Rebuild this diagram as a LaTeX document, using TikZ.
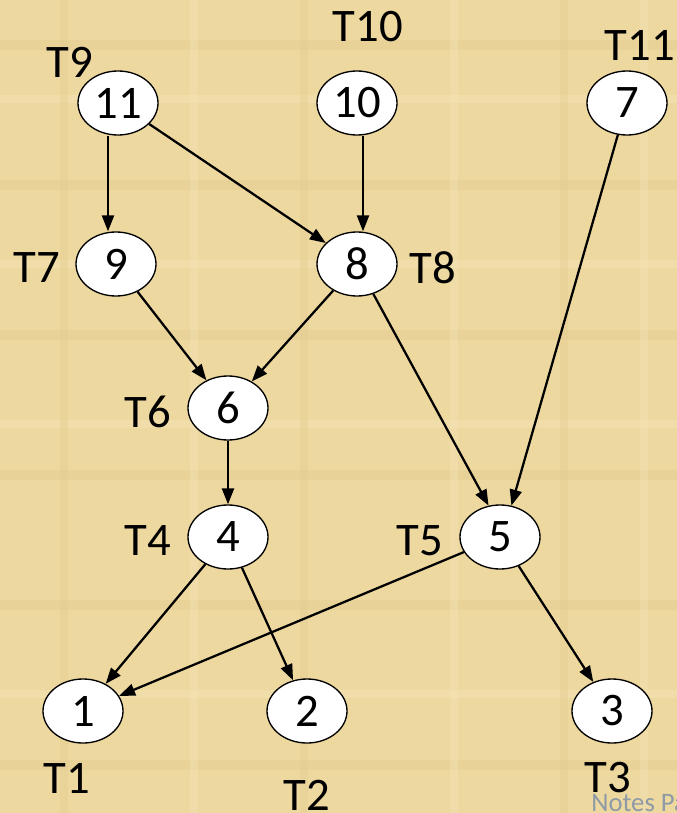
\documentclass[tikz,border=0pt]{standalone}
\usepackage{fontspec}
\setmainfont{Carlito}
\usepackage{tikz}
\usetikzlibrary{arrows.meta,shapes.geometric}
\definecolor{parch}{HTML}{EDD8A0}
\definecolor{parchdk}{HTML}{E2C98C}
\definecolor{parchlt}{HTML}{F3E2B4}
\definecolor{notec}{HTML}{8E9AA6}
\tikzset{
  tnode/.style={draw=black,line width=1pt,ellipse,fill=white,minimum width=60pt,minimum height=48pt,inner sep=0pt,font=\fontsize{35}{38}\selectfont},
  tlab/.style={inner sep=0pt,font=\fontsize{35}{38}\selectfont},
  ar/.style={-{Triangle[length=12pt,width=9pt]},line width=1.7pt,black}
}
\begin{document}
\begin{tikzpicture}[x=0.75pt,y=-0.75pt]
\useasboundingbox (0,0) rectangle (677,813);
\fill[parch] (0,0) rectangle (677,813);
% faint paper grain
\foreach \yy in {40,180,330,470,600,760}
  \fill[parchdk,opacity=0.4] (0,\yy) rectangle (677,\yy+10);
\foreach \yy in {95,260,420,690}
  \fill[parchlt,opacity=0.5] (0,\yy) rectangle (677,\yy+8);
\foreach \xx in {60,300,560}
  \fill[parchdk,opacity=0.3] (\xx,0) rectangle (\xx+8,813);
\foreach \xx in {190,450,640}
  \fill[parchlt,opacity=0.4] (\xx,0) rectangle (\xx+8,813);
% task nodes
\node[tnode] (n11) at (118,103) {11};
\node[tnode] (n10) at (357,103) {10};
\node[tnode] (n7) at (627,103) {7};
\node[tnode] (n9) at (116,264) {9};
\node[tnode] (n8) at (357,264) {8};
\node[tnode] (n6) at (228,408) {6};
\node[tnode] (n4) at (228,537) {4};
\node[tnode] (n5) at (500,537) {5};
\node[tnode] (n1) at (83,711) {1};
\node[tnode] (n2) at (307,711) {2};
\node[tnode] (n3) at (612,711) {3};
% labels
\node[tlab] (t9) at (70,62) {T9};
\node[tlab] (t10) at (368,27) {T10};
\node[tlab] (t11) at (640,45) {T11};
\node[tlab] (t7) at (37,268) {T7};
\node[tlab] (t8) at (433,268) {T8};
\node[tlab] (t6) at (148,412) {T6};
\node[tlab] (t4) at (148,541) {T4};
\node[tlab] (t5) at (420,541) {T5};
\node[tlab] (t1) at (67,778) {T1};
\node[tlab] (t2) at (307,795) {T2};
\node[tlab] (t3) at (608,778) {T3};
\node[anchor=north west,inner sep=0pt,text=notec,font=\fontsize{20}{22}\selectfont] (notes) at (591,794) {Notes Page};
% edges
\draw[ar] ([xshift=-7.5pt]n11.south) -- ([xshift=-7.5pt]n11.south |- n9.north);
\draw[ar] (n11) -- (n8);
\draw[ar] ([xshift=4.5pt]n10.south) -- ([xshift=4.5pt]n10.south |- n8.north);
\draw[ar] (n7) -- (n5.70);
\draw[ar] (n9) -- (n6);
\draw[ar] (n8) -- (n6);
\draw[ar] (n8) -- (n5.110);
\draw[ar] (n6) -- (n4);
\draw[ar] (n4) -- (n1);
\draw[ar] (n4) -- (n2);
\draw[ar] (n5) -- (n1);
\draw[ar] (n5) -- (n3);
\end{tikzpicture}
\end{document}
